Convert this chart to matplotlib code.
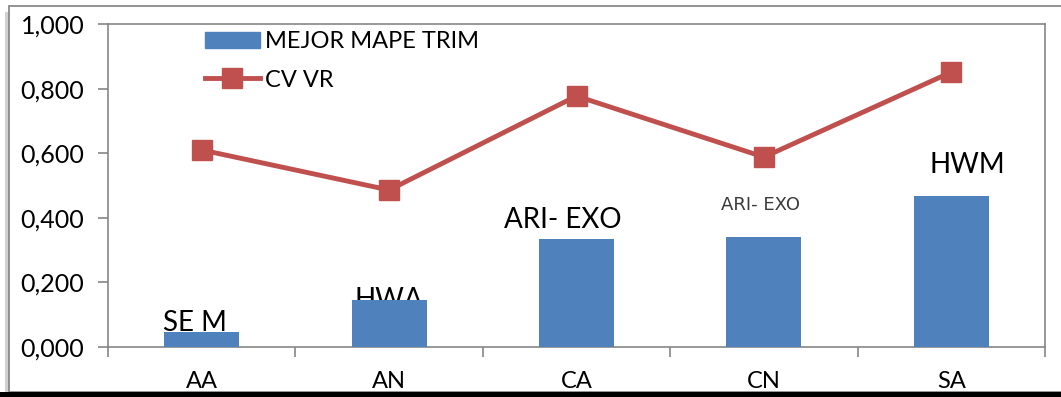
import matplotlib.pyplot as plt
from matplotlib.ticker import FuncFormatter, FixedLocator
from matplotlib.patches import Rectangle
from matplotlib.lines import Line2D
import numpy as np

categories = ["AA", "AN", "CA", "CN", "SA"]
mejor_mape_trim = [0.047, 0.145, 0.333, 0.342, 0.468]
cv_vr = [0.610, 0.486, 0.777, 0.588, 0.851]
bar_labels = ["SE M", "HWA", "ARI- EXO", "ARI- EXO", "HWM"]

BLUE = "#4f81bd"
RED = "#c0504d"
GRID = "#868686"

plt.rcParams["font.family"] = ["Lato", "DejaVu Sans"]

fig = plt.figure(figsize=(10.61, 3.97), dpi=100)
W, H = 1061, 397

# outer chart frame with soft shadow on the left
fig.patches.append(Rectangle((5 / W, 0), 1.2, (H - 12) / H, transform=fig.transFigure,
                             facecolor="#d0d0d0", edgecolor="none", zorder=0))
fig.patches.append(Rectangle((9 / W, 5 / H), 1.2, (H - 11) / H, transform=fig.transFigure,
                             facecolor="white", edgecolor="#8a8a8a", linewidth=1.3, zorder=1))
fig.patches.append(Rectangle((0, 0), 1, 5 / H, transform=fig.transFigure,
                             facecolor="black", edgecolor="none", zorder=2))

ax = fig.add_axes([108 / W, 1 - 347 / H, (1045 - 108) / W, (347 - 24) / H], zorder=3)
ax.patch.set_alpha(0)

x = np.arange(len(categories))
ax.bar(x, mejor_mape_trim, width=0.4, color=BLUE, zorder=3, label="MEJOR MAPE TRIM")
ax.plot(x, cv_vr, color=RED, linewidth=3.5, marker="s", markersize=14,
        markerfacecolor=RED, markeredgecolor=RED, zorder=4, label="CV VR")

ax.set_xlim(-0.5, len(categories) - 0.5)
ax.set_ylim(0, 1.0)
ax.yaxis.set_major_locator(FixedLocator(np.arange(0, 1.01, 0.2)))
ax.yaxis.set_major_formatter(FuncFormatter(lambda v, p: f"{v:.3f}".replace(".", ",")))
ax.set_xticks(x)
ax.set_xticklabels(categories)
ax.set_xticks(np.arange(-0.5, len(categories), 1.0), minor=True)
ax.tick_params(axis="x", which="major", length=0, labelsize=17, pad=17)
ax.tick_params(axis="x", which="minor", length=7, color=GRID, width=1.2, direction="out")
ax.tick_params(axis="y", length=7, color=GRID, width=1.2, labelsize=18, pad=10)
for s in ax.spines.values():
    s.set_color(GRID)
    s.set_linewidth(1.2)

# series names above the bars (offsets, size, colour, family, layer)
offs = [(-0.035, 0.002, 20, "black", "Lato", 3),
        (0.0, -0.024, 20, "black", "Lato", 2),
        (-0.075, 0.035, 20, "black", "Lato", 3),
        (-0.02, 0.082, 13, "#3a3a3a", "DejaVu Sans", 3),
        (0.085, 0.071, 20, "black", "Lato", 3)]
for i, (lab, v) in enumerate(zip(bar_labels, mejor_mape_trim)):
    dx, dy, fs, c, fam, z = offs[i]
    ax.text(i + dx, v + dy, lab, ha="center", va="baseline", fontsize=fs,
            color=c, family=fam, zorder=z)

handles = [Rectangle((0, 0), 1, 1, color=BLUE),
           Line2D([], [], color=RED, linewidth=3.5, marker="s", markersize=14)]
ax.legend(handles, ["MEJOR MAPE TRIM", "CV VR"], loc="upper left",
          bbox_to_anchor=(0.1035, 0.978), frameon=False, fontsize=17,
          borderpad=0, borderaxespad=0,
          handlelength=2.33, handletextpad=0.2, labelspacing=0.74)

fig.savefig("out.png", dpi=100)
